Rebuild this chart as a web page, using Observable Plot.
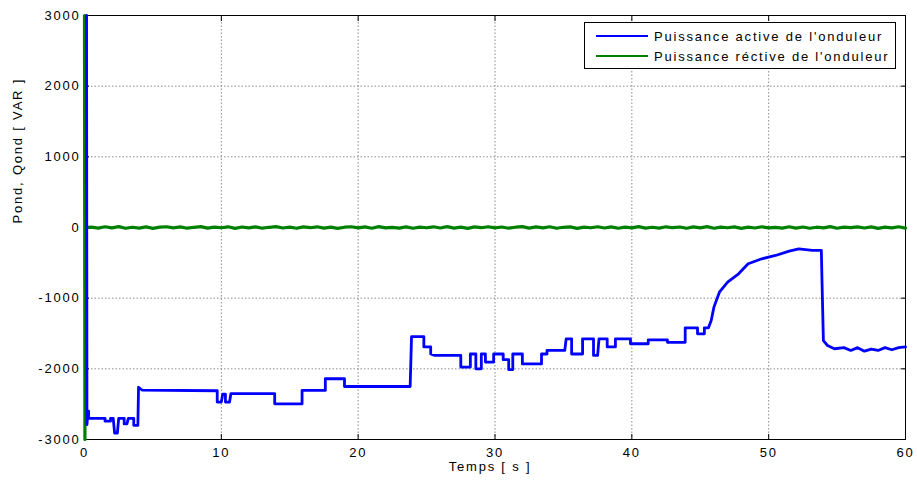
<!DOCTYPE html>
<html>
<head>
<meta charset="utf-8">
<script src="https://cdn.jsdelivr.net/npm/d3@7"></script>
<script src="https://cdn.jsdelivr.net/npm/@observablehq/plot@0.6"></script>
<style>
  body { margin: 0; background: #fff; }
  #wrap { position: relative; width: 917px; height: 483px; font-family: "Liberation Sans", Arial, sans-serif; }
  #wrap svg text { letter-spacing: 1.8px; }
  #wrap svg g[aria-label="y-title"] text { letter-spacing: 0; }
  .legend { position: absolute; left: 584px; top: 22px; width: 312px; height: 47px; box-sizing: border-box;
            border: 1px solid #000; background: #fff; font-size: 13px; letter-spacing: 1.8px; color: #000; }
  .legend .row { position: absolute; left: 11px; height: 18px; display: flex; align-items: center; white-space: nowrap; }
  .legend .swatch { width: 52px; height: 2px; margin-right: 6px; }
</style>
</head>
<body>
<div id="wrap"></div>
<script>
// Inverter power: active power (blue) and reactive power (green) versus time
const xTicks = [0, 10, 20, 30, 40, 50, 60];
const yTicks = [-3000, -2000, -1000, 0, 1000, 2000, 3000];

// Active power samples (s, W)
const activeTime = [0.15, 0.18, 0.25, 0.3, 0.3, 1.5, 1.5, 1.9, 1.9, 2.1, 2.2, 2.4, 2.5, 2.9, 2.9, 3.1, 3.2, 3.6, 3.6, 3.9,
  3.95, 4.2, 9.7, 9.7, 10.0, 10.1, 10.3, 10.3, 10.6, 10.7, 13.9, 13.9, 15.9, 15.9, 17.6, 17.6, 19.0, 19.0, 23.8, 23.9,
  24.8, 24.8, 25.3, 25.3, 25.6, 27.5, 27.5, 28.2, 28.2, 28.6, 28.6, 29.0, 29.0, 29.3, 29.3, 29.9, 29.9, 30.6, 30.6, 31.0,
  31.0, 31.3, 31.3, 32.0, 32.0, 33.4, 33.4, 33.8, 33.8, 35.1, 35.2, 35.6, 35.6, 36.4, 36.4, 37.2, 37.2, 37.5, 37.6, 38.2,
  38.2, 38.8, 38.8, 39.9, 39.9, 41.2, 41.2, 42.6, 42.6, 43.9, 43.9, 44.8, 44.8, 45.3, 45.3, 45.6, 45.8, 46.0, 46.4, 47.0,
  47.8, 48.5, 49.5, 50.5, 51.5, 52.2, 53.2, 53.85, 53.9, 54.0, 54.3, 54.8, 55.5, 56.0, 56.5, 57.0, 57.5, 58.0, 58.5, 59.0,
  59.5, 60.0];
const activePower = [3000, -2790, -2600, -2600, -2700, -2700, -2740, -2740, -2700, -2700, -2910, -2910, -2700, -2700, -2780, -2780, -2700, -2700, -2800, -2800,
  -2260, -2300, -2310, -2470, -2470, -2360, -2360, -2470, -2470, -2350, -2350, -2495, -2495, -2305, -2305, -2140, -2140, -2250, -2250, -1545,
  -1545, -1690, -1690, -1790, -1810, -1810, -1975, -1975, -1790, -1790, -2000, -2000, -1790, -1790, -1905, -1905, -1790, -1790, -1870, -1870,
  -2010, -2010, -1790, -1790, -1930, -1930, -1790, -1790, -1740, -1740, -1575, -1575, -1790, -1790, -1575, -1575, -1810, -1810, -1575, -1575,
  -1690, -1690, -1575, -1575, -1645, -1645, -1590, -1590, -1625, -1625, -1420, -1420, -1505, -1505, -1420, -1420, -1315, -1127, -915, -773,
  -655, -513, -443, -396, -335, -302, -325, -325, -773, -1600, -1670, -1716, -1700, -1740, -1700, -1750, -1720, -1740, -1700, -1730,
  -1700, -1690];

// Reactive power: start-up transient, then fluctuation around zero (VAR), one sample every 0.5 s
const reactiveStartTime = [0, 0.03, 0.06];
const reactiveStart = [3000, -3000, 0];
const reactiveNoise = [6, -9, 10, -5, 12, -11, 4, -8, 9, -12, 5, 11, -6, 8, -10, 3, 12, -8, 6, -4,
  10, -12, 7, -5, 9, -10, 3, 12, -7, 5, -11, 8, -3, 10, -9, 6, -12, 4, 11, -6,
  8, -10, 12, -5, 3, -8, 9, -11, 6, -4, 10, -7, 12, -9, 5, -12, 8, -3, 11, -6,
  7, -10, 4, 12, -8, 9, -5, 10, -11, 3, 8, -12, 6, -4, 11, -7, 9, -10, 5, -6,
  12, -9, 4, -8, 10, -3, 7, -11, 8, -5, 12, -10, 6, -4, 9, -12, 5, -7, 11, -6,
  3, -9, 10, -8, 7, -11, 4, -5, 12, -10, 6, -3, 9, -7, 8, -12, 5, -6, 10, -9];

const active = activeTime.map((t, i) => ({t, v: activePower[i]}));
const reactive = [
  ...reactiveStartTime.map((t, i) => ({t, v: reactiveStart[i]})),
  ...reactiveNoise.map((v, i) => ({t: 0.5 + i * 0.5, v}))
].filter(d => d.t <= 60);

const chart = Plot.plot({
  width: 917,
  height: 483,
  marginLeft: 84,
  marginRight: 12,
  marginTop: 15,
  marginBottom: 44,
  style: {fontFamily: "'Liberation Sans', Arial, sans-serif", fontSize: "13px", background: "#fff", color: "#000"},
  x: {domain: [0, 60]},
  y: {domain: [-3000, 3000]},
  marks: [
    Plot.gridX(xTicks, {stroke: "#8a8a8a", strokeOpacity: 1, strokeDasharray: "1.5,2"}),
    Plot.gridY(yTicks, {stroke: "#8a8a8a", strokeOpacity: 1, strokeDasharray: "1.5,2"}),
    Plot.frame({stroke: "#000", strokeWidth: 1}),
    // inward ticks on all four sides
    Plot.axisX(xTicks, {anchor: "bottom", tickSize: 5, dy: -5, tickFormat: () => "", label: null}),
    Plot.axisX(xTicks, {anchor: "top", tickSize: 5, dy: 5, tickFormat: () => "", label: null}),
    Plot.axisY(yTicks, {anchor: "left", tickSize: 5, dx: 5, tickFormat: () => "", label: null}),
    Plot.axisY(yTicks, {anchor: "right", tickSize: 5, dx: -5, tickFormat: () => "", label: null}),
    // tick labels
    Plot.axisX(xTicks, {anchor: "bottom", tickSize: 0, tickPadding: 8, tickFormat: d => String(d), label: null}),
    Plot.axisY(yTicks, {anchor: "left", tickSize: 0, tickPadding: 4, tickFormat: d => String(d), label: null}),
    Plot.line(reactive, {x: "t", y: "v", stroke: "#008000", strokeWidth: 3.2}),
    Plot.line(active, {x: "t", y: "v", stroke: "#0000ff", strokeWidth: 2.8}),
    Plot.text(["Temps [ s ]"], {frameAnchor: "bottom", dy: 31, dx: -5, text: d => d, fontSize: 13}),
    Plot.text(["Pond, Qond [ VAR ]"], {frameAnchor: "left", dx: -67, dy: -4, rotate: -90, text: d => d, fontSize: 13, ariaLabel: "y-title"})
  ]
});

const wrap = document.getElementById("wrap");
wrap.appendChild(chart);

// legend box in the upper right corner of the plot area
const legendItems = [
  {label: "Puissance active de l'onduleur", color: "#0000ff"},
  {label: "Puissance réctive de l'onduleur", color: "#008000"}
];
const legend = document.createElement("div");
legend.className = "legend";
legendItems.forEach((item, i) => {
  const row = document.createElement("div");
  row.className = "row";
  row.style.top = (4 + i * 20) + "px";
  const sw = document.createElement("span");
  sw.className = "swatch";
  sw.style.background = item.color;
  const tx = document.createElement("span");
  tx.textContent = item.label;
  row.appendChild(sw);
  row.appendChild(tx);
  legend.appendChild(row);
});
wrap.appendChild(legend);
</script>
</body>
</html>
